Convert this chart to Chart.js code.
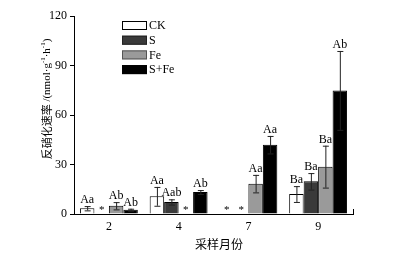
<!DOCTYPE html>
<html>
<head>
<meta charset="utf-8">
<script src="https://cdn.jsdelivr.net/npm/chart.js@4"></script>
<style>
  html, body { margin: 0; padding: 0; background: #fff; }
  #wrap { width: 409px; height: 261px; }
</style>
</head>
<body>
<div id="wrap"><canvas id="denitChart" width="409" height="261"></canvas></div>
<script>
const months = ['2', '4', '7', '9']
const yTicks = [0, 30, 60, 90, 120]

const ck = [3.5, 10.7, null, 12.1]
const ckErr = [1.3, 5.7, null, 4.8]
const ckSig = ['Aa', 'Aa', '', 'Ba']

const s = [null, 7.3, null, 19.8]
const sErr = [null, 1.6, null, 5.0]
const sSig = ['', 'Aab', '', 'Ba']

const fe = [5.0, null, 18.4, 28.7]
const feErr = [2.2, null, 5.3, 12.7]
const feSig = ['Ab', '', 'Aa', 'Ba']

const sfe = [2.6, 13.3, 42.0, 74.9]
const sfeErr = [0.6, 1.2, 5.3, 23.9]
const sfeSig = ['Ab', 'Ab', 'Aa', 'Ab']

const serif = '"Liberation Serif", "Times New Roman", "Noto Sans CJK SC", serif'
const cjk = '"Noto Sans CJK SC", "Liberation Serif", serif'

// error bars, significance letters and * for missing values
const annotate = {
    id: 'annotate',
    afterDatasetsDraw(chart) {
        const ctx = chart.ctx
        const y = chart.scales.y
        ctx.save()
        chart.data.datasets.forEach((ds, i) => {
            const meta = chart.getDatasetMeta(i)
            meta.data.forEach((bar, j) => {
                const v = ds.data[j]
                if (v === null) {
                    ctx.fillStyle = '#000'
                    ctx.font = '11px ' + serif
                    ctx.textAlign = 'center'
                    ctx.textBaseline = 'alphabetic'
                    ctx.fillText('*', bar.x, y.getPixelForValue(0) - 1)
                    return
                }
                const e = ds.err[j] || 0
                const top = y.getPixelForValue(v + e)
                const bot = y.getPixelForValue(Math.max(v - e, 0))
                ctx.strokeStyle = '#222'
                ctx.lineWidth = 1
                ctx.beginPath()
                ctx.moveTo(bar.x + 0.5, top)
                ctx.lineTo(bar.x + 0.5, bot)
                ctx.moveTo(bar.x - 2.5, top + 0.5)
                ctx.lineTo(bar.x + 3.5, top + 0.5)
                ctx.moveTo(bar.x - 2.5, bot + 0.5)
                ctx.lineTo(bar.x + 3.5, bot + 0.5)
                ctx.stroke()
                if (ds.sig[j]) {
                    ctx.fillStyle = '#000'
                    ctx.font = '12px ' + serif
                    ctx.textAlign = 'center'
                    ctx.textBaseline = 'alphabetic'
                    ctx.fillText(ds.sig[j], bar.x, top - 3)
                }
            })
        })
        // small tick at the right end of the x axis
        const a = chart.chartArea
        ctx.strokeStyle = '#000'
        ctx.beginPath()
        ctx.moveTo(a.right + 0.5, a.bottom)
        ctx.lineTo(a.right + 0.5, a.bottom - 5)
        ctx.stroke()
        ctx.restore()
    },
    afterDraw(chart) {
        const ctx = chart.ctx
        ctx.save()
        // legend
        chart.data.datasets.forEach((ds, i) => {
            const yy = 21 + i * 14.7
            ctx.fillStyle = ds.backgroundColor
            ctx.fillRect(122, yy, 25, 9)
            ctx.strokeStyle = ds.legendBorder
            ctx.lineWidth = 1
            ctx.strokeRect(122.5, yy + 0.5, 24, 8)
            ctx.fillStyle = '#000'
            ctx.font = '12px ' + serif
            ctx.textAlign = 'left'
            ctx.textBaseline = 'middle'
            ctx.fillText(ds.label, 149, yy + 5)
        })
        // x title
        ctx.font = '12px ' + cjk
        ctx.textAlign = 'center'
        ctx.textBaseline = 'middle'
        ctx.fillText('采样月份', 219, 244)
        // y title, rotated, with superscripts
        ctx.translate(47, 99)
        ctx.rotate(-Math.PI / 2)
        const parts = [
            ['反硝化速率', cjk, 11, 0],
            [' /(nmol·g', serif, 11, 0],
            ['-1', serif, 7, -4],
            ['·h', serif, 11, 0],
            ['-1', serif, 7, -4],
            [')', serif, 11, 0]
        ]
        let w = 0
        parts.forEach(p => { ctx.font = p[2] + 'px ' + p[1]; w += ctx.measureText(p[0]).width })
        let x = -w / 2
        ctx.textAlign = 'left'
        ctx.textBaseline = 'middle'
        parts.forEach(p => {
            ctx.font = p[2] + 'px ' + p[1]
            ctx.fillText(p[0], x, p[3])
            x += ctx.measureText(p[0]).width
        })
        ctx.restore()
    }
}

const ctx = document.getElementById('denitChart').getContext('2d')
new Chart(ctx, {
    type: 'bar',
    data: {
        labels: months,
        datasets: [
            { label: 'CK', data: ck, err: ckErr, sig: ckSig, backgroundColor: '#ffffff', borderColor: '#000', legendBorder: '#000', borderWidth: 1 },
            { label: 'S', data: s, err: sErr, sig: sSig, backgroundColor: '#3a3a3a', borderColor: '#000', legendBorder: '#222', borderWidth: 1 },
            { label: 'Fe', data: fe, err: feErr, sig: feSig, backgroundColor: '#9a9a9a', borderColor: '#000', legendBorder: '#555', borderWidth: 1 },
            { label: 'S+Fe', data: sfe, err: sfeErr, sig: sfeSig, backgroundColor: '#000000', borderColor: '#000', legendBorder: '#000', borderWidth: 1 }
        ]
    },
    options: {
        responsive: false,
        animation: false,
        devicePixelRatio: 1,
        categoryPercentage: 0.83,
        barPercentage: 1,
        layout: { padding: { left: 0, right: 56, top: 16, bottom: 0 } },
        plugins: {
            legend: { display: false },
            tooltip: { enabled: false }
        },
        scales: {
            x: {
                afterFit: sc => { sc.height = 47 },
                grid: { display: false, drawTicks: false },
                border: { display: true, color: '#000', width: 1 },
                ticks: { color: '#000', font: { family: serif, size: 12 }, padding: 6 }
            },
            y: {
                min: 0,
                max: 120,
                afterFit: sc => { sc.width = 74 },
                afterBuildTicks: sc => { sc.ticks = yTicks.map(v => ({ value: v })) },
                grid: { drawOnChartArea: false, drawTicks: true, tickLength: 4, color: '#000' },
                border: { display: true, color: '#000', width: 1 },
                ticks: { color: '#000', font: { family: serif, size: 12 }, padding: 3 }
            }
        }
    },
    plugins: [annotate]
})
</script>
</body>
</html>
